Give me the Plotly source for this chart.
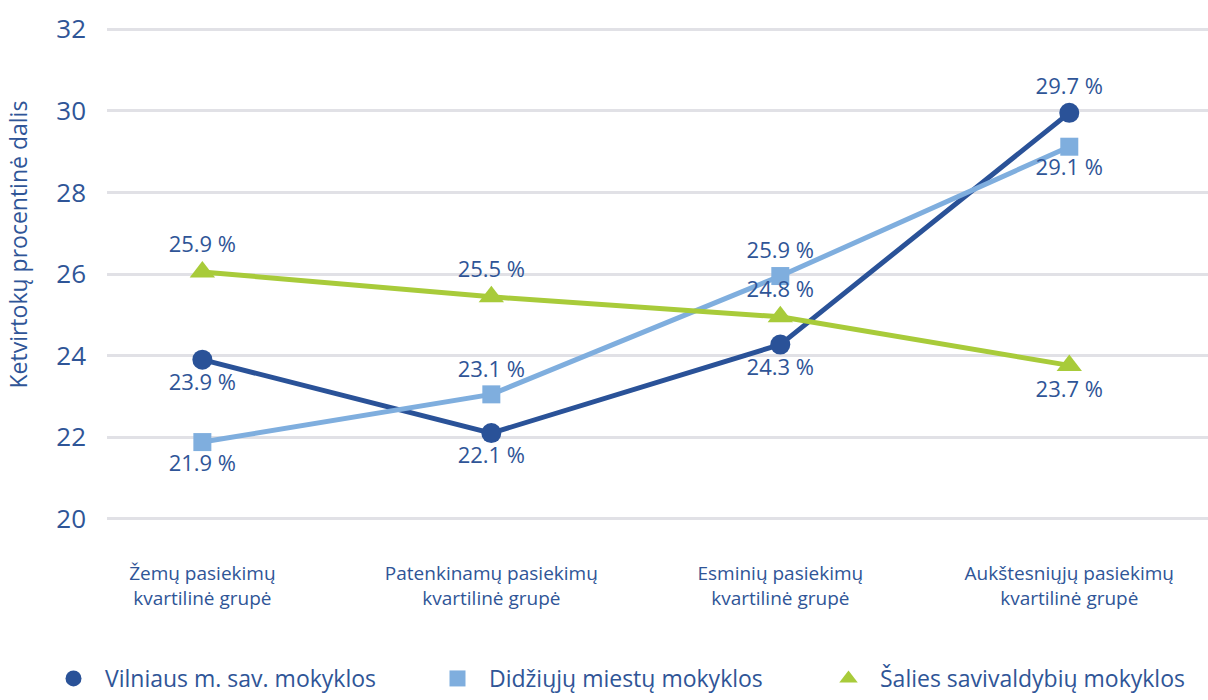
import plotly.graph_objects as go

# Data
categories = [
    "Žemų pasiekimų<br>kvartilinė grupė",
    "Patenkinamų pasiekimų<br>kvartilinė grupė",
    "Esminių pasiekimų<br>kvartilinė grupė",
    "Aukštesniųjų pasiekimų<br>kvartilinė grupė",
]

vilnius = [23.9, 22.1, 24.27, 29.95]
vilnius_labels = ["23.9 %", "22.1 %", "24.3 %", "29.7 %"]

didziuju = [21.88, 23.05, 25.95, 29.12]
didziuju_labels = ["21.9 %", "23.1 %", "25.9 %", "29.1 %"]

salies = [26.05, 25.44, 24.95, 23.76]
salies_labels = ["25.9 %", "25.5 %", "24.8 %", "23.7 %"]

series_names = [
    "Vilniaus m. sav. mokyklos",
    "Didžiųjų miestų mokyklos",
    "Šalies savivaldybių mokyklos",
]

TEXT = "#2F5597"
DARK = "#2A5298"
LIGHT = "#7FAEDE"
GREEN = "#A8CB3A"
FONT = "Open Sans"

fig = go.Figure()

fig.add_trace(go.Scatter(
    x=categories, y=vilnius, mode="lines+markers+text",
    text=vilnius_labels,
    textposition=["bottom center", "bottom center", "bottom center", "top center"],
    line=dict(color=DARK, width=5),
    marker=dict(symbol="circle", size=20, color=DARK),
    textfont=dict(size=22, color=TEXT, family=FONT),
    showlegend=False,
))

fig.add_trace(go.Scatter(
    x=categories, y=didziuju, mode="lines+markers+text",
    text=didziuju_labels,
    textposition=["bottom center", "top center", "top center", "bottom center"],
    line=dict(color=LIGHT, width=5),
    marker=dict(symbol="square", size=18, color=LIGHT),
    textfont=dict(size=22, color=TEXT, family=FONT),
    showlegend=False,
))

fig.add_trace(go.Scatter(
    x=categories, y=salies, mode="lines+markers+text",
    text=salies_labels,
    textposition=["top center", "top center", "top center", "bottom center"],
    line=dict(color=GREEN, width=5),
    marker=dict(symbol="triangle-up", size=22, color=GREEN),
    textfont=dict(size=22, color=TEXT, family=FONT),
    showlegend=False,
))

# legend entries (markers only), one legend box each
legend_ids = ["legend", "legend2", "legend3"]
legend_x = [42, 426, 817]
for name, color, symbol, lid in zip(series_names, [DARK, LIGHT, GREEN],
                                    ["circle", "square", "triangle-up"], legend_ids):
    fig.add_trace(go.Scatter(
        x=[None], y=[None], mode="markers", name=name, legend=lid,
        marker=dict(symbol=symbol, size=20, color=color),
    ))

fig.add_annotation(
    text="Ketvirtokų procentinė dalis",
    xref="paper", yref="paper", x=-0.0808, y=0.56,
    xanchor="center", textangle=-90, showarrow=False,
    font=dict(size=23, color=TEXT, family=FONT),
)

fig.update_layout(
    width=1208,
    height=700,
    paper_bgcolor="white",
    plot_bgcolor="white",
    margin=dict(l=107, r=0, t=28, b=180),
    font=dict(family=FONT, color=TEXT),
)

for lid, lx in zip(legend_ids, legend_x):
    fig.update_layout({lid: dict(
        orientation="h",
        xref="container", yref="container",
        x=lx / 1208, y=-0.081, xanchor="left", yanchor="bottom",
        font=dict(size=23, color=TEXT, family=FONT),
        itemwidth=53,
        bgcolor="rgba(0,0,0,0)",
    )})

fig.update_xaxes(
    range=[-0.33, 3.48],
    showgrid=False, showline=False, zeroline=False,
    ticks="", ticklabelstandoff=40,
    tickfont=dict(size=19, color=TEXT, family=FONT),
)

fig.update_yaxes(
    range=[19.97, 32.03], dtick=2, tick0=20,
    showgrid=True, gridcolor="#E1E1E6", gridwidth=3,
    zeroline=False, showline=False,
    ticks="", ticklabelstandoff=20,
    tickfont=dict(size=26, color=TEXT, family=FONT),
)

fig.write_html(
    "out.html",
    config={"displayModeBar": False},
    post_script="document.body.style.margin='0';document.body.style.padding='0';",
)
